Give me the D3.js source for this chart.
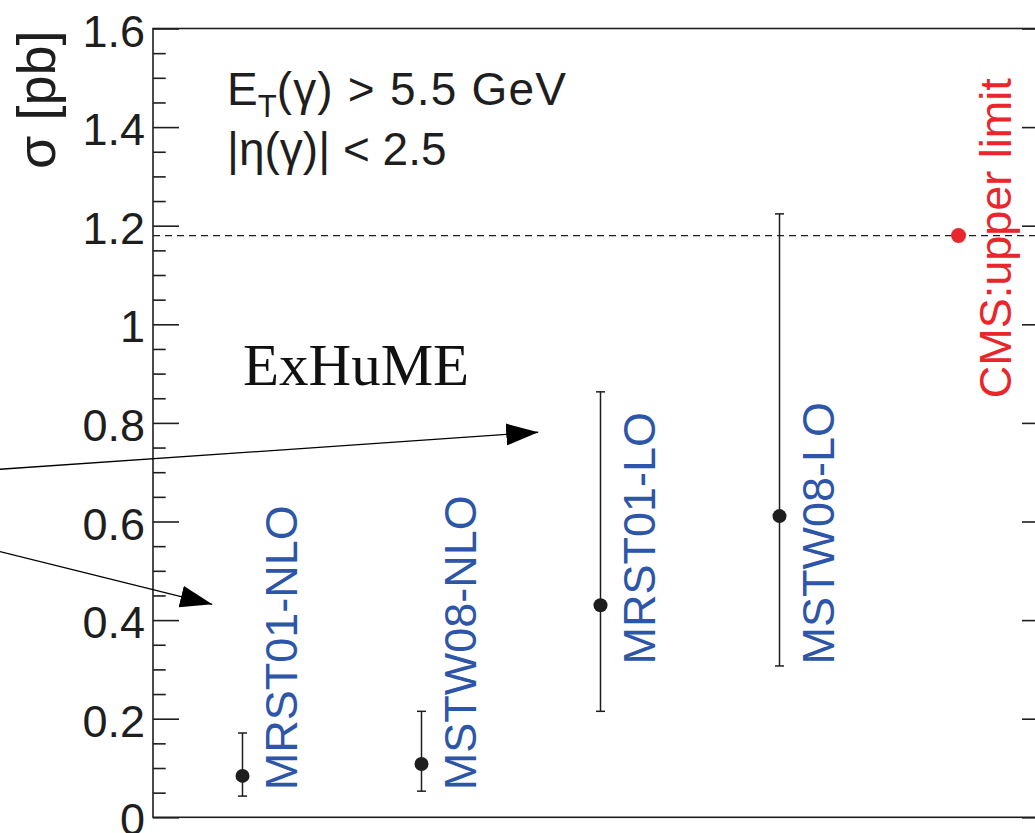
<!DOCTYPE html>
<html>
<head>
<meta charset="utf-8">
<script src="https://cdn.jsdelivr.net/npm/d3@7"></script>
<style>
  html, body { margin: 0; padding: 0; background: #fff; }
  svg { display: block; }
</style>
</head>
<body>
<svg id="chart" width="1035" height="833"></svg>
<script>
// ExHuME predictions for exclusive diphoton production, per PDF set
const pdfSets  = ["MRST01-NLO", "MSTW08-NLO", "MRST01-LO", "MSTW08-LO"];
const sigma    = [0.084, 0.108, 0.430, 0.611];   // central value [pb]
const sigmaHi  = [0.171, 0.215, 0.863, 1.224];   // upper edge of uncertainty
const sigmaLo  = [0.043, 0.053, 0.215, 0.307];   // lower edge of uncertainty

// CMS measured upper limit
const cmsLabel = "CMS:upper limit";
const cmsLimit = 1.18;

// axis ticks
const yMajorTicks  = [0, 0.2, 0.4, 0.6, 0.8, 1.0, 1.2, 1.4, 1.6];
const yTickLabels  = ["0", "0.2", "0.4", "0.6", "0.8", "1", "1.2", "1.4", "1.6"];
const yMinorTicks  = [0.05, 0.1, 0.15, 0.25, 0.3, 0.35, 0.45, 0.5, 0.55, 0.65, 0.7, 0.75,
                      0.85, 0.9, 0.95, 1.05, 1.1, 1.15, 1.25, 1.3, 1.35, 1.45, 1.5, 1.55];

// ---------------------------------------------------------------- layout
const svg = d3.select("#chart");
const sans = "'Liberation Sans', Arial, Helvetica, sans-serif";
const serif = "'Liberation Serif', 'Times New Roman', serif";
const frame = { left: 153, right: 1048, top: 28.5, bottom: 817.3 };

const x = d3.scaleLinear().domain([0.5, 5.5]).range([frame.left, frame.right]);
const y = d3.scaleLinear().domain([0, 1.6]).range([frame.bottom, frame.top]);

const ink = "#1e1e1e";
const blue = "#2d55a8";
const red = "#e8262b";

// where each rotated label starts (in σ units) and its offset from the point
const labelStart = [0.055, 0.055, 0.31, 0.31];
const cmsLabelStart = 0.85;
const labelDx = 54;

// ---------------------------------------------------------------- axes
function styleAxis(g) {
  g.select(".domain").remove();
  g.selectAll(".tick line").attr("stroke", ink).attr("stroke-width", 1.6);
}

const majorSize = 26, minorSize = 12.7;

const leftMajor = d3.axisLeft(y)
  .tickValues(yMajorTicks)
  .tickFormat((d, i) => yTickLabels[i])
  .tickSizeInner(-majorSize).tickSizeOuter(0).tickPadding(8);
const leftMinor = d3.axisLeft(y)
  .tickValues(yMinorTicks).tickFormat("")
  .tickSizeInner(-minorSize).tickSizeOuter(0);
const rightMajor = d3.axisRight(y)
  .tickValues(yMajorTicks).tickFormat("")
  .tickSizeInner(-majorSize).tickSizeOuter(0);
const rightMinor = d3.axisRight(y)
  .tickValues(yMinorTicks).tickFormat("")
  .tickSizeInner(-minorSize).tickSizeOuter(0);

svg.append("g").attr("transform", `translate(${frame.left},0)`).call(leftMajor).call(styleAxis)
  .selectAll(".tick text")
  .attr("fill", ink)
  .style("font-size", "45px")
  .style("font-family", sans)
  .attr("dy", "0.39em");
svg.append("g").attr("transform", `translate(${frame.left},0)`).call(leftMinor).call(styleAxis);
svg.append("g").attr("transform", `translate(${frame.right},0)`).call(rightMajor).call(styleAxis);
svg.append("g").attr("transform", `translate(${frame.right},0)`).call(rightMinor).call(styleAxis);

// frame
svg.append("rect")
  .attr("x", frame.left).attr("y", frame.top)
  .attr("width", frame.right - frame.left).attr("height", frame.bottom - frame.top)
  .attr("fill", "none").attr("stroke", ink).attr("stroke-width", 1.6);

// y-axis title
svg.append("text")
  .attr("transform", `translate(55,${frame.top + 2}) rotate(-90)`)
  .attr("text-anchor", "end")
  .style("font-family", sans)
  .style("font-size", "54px")
  .attr("fill", ink)
  .text("σ [pb]");

// ---------------------------------------------------------------- kinematic cuts
const cuts = svg.append("g").attr("fill", ink)
  .style("font-family", sans).style("font-size", "46px");
const line1 = cuts.append("text").attr("x", 227).attr("y", 105);
line1.append("tspan").text("E");
line1.append("tspan").style("font-size", "31px").attr("dy", 12).text("T");
line1.append("tspan").attr("dy", -12).style("letter-spacing", "1.2px").text("(γ) > 5.5 GeV");
cuts.append("text").attr("x", 227).attr("y", 165).text("|η(γ)| < 2.5");

// ---------------------------------------------------------------- upper limit line
svg.append("line")
  .attr("x1", frame.left).attr("x2", frame.right)
  .attr("y1", y(cmsLimit)).attr("y2", y(cmsLimit))
  .attr("stroke", ink).attr("stroke-width", 1.2)
  .attr("stroke-dasharray", "7,5");

// ---------------------------------------------------------------- predictions
const pts = pdfSets.map((name, i) => ({
  name, i, c: sigma[i], hi: sigmaHi[i], lo: sigmaLo[i], pos: i + 1, start: labelStart[i]
}));

const gPts = svg.append("g");
const capW = 4.5;
const eb = gPts.selectAll("g.err").data(pts).join("g").attr("class", "err")
  .attr("stroke", ink).attr("stroke-width", 1.5);
eb.append("line")
  .attr("x1", d => x(d.pos)).attr("x2", d => x(d.pos))
  .attr("y1", d => y(d.lo)).attr("y2", d => y(d.hi));
eb.append("line")
  .attr("x1", d => x(d.pos) - capW).attr("x2", d => x(d.pos) + capW)
  .attr("y1", d => y(d.hi)).attr("y2", d => y(d.hi));
eb.append("line")
  .attr("x1", d => x(d.pos) - capW).attr("x2", d => x(d.pos) + capW)
  .attr("y1", d => y(d.lo)).attr("y2", d => y(d.lo));

gPts.selectAll("circle").data(pts).join("circle")
  .attr("cx", d => x(d.pos)).attr("cy", d => y(d.c))
  .attr("r", 7).attr("fill", ink);

gPts.selectAll("text").data(pts).join("text")
  .attr("transform", d => `translate(${x(d.pos) + labelDx},${y(d.start)}) rotate(-90)`)
  .style("font-family", sans)
  .style("font-size", "45px")
  .attr("fill", blue)
  .text(d => d.name);

// CMS point
svg.append("circle")
  .attr("cx", x(5)).attr("cy", y(cmsLimit))
  .attr("r", 7.5).attr("fill", red);
svg.append("text")
  .attr("transform", `translate(${x(5) + labelDx - 2},${y(cmsLabelStart)}) rotate(-90)`)
  .style("font-family", sans)
  .style("font-size", "45px")
  .attr("fill", red)
  .text(cmsLabel);

// ---------------------------------------------------------------- ExHuME label with arrows
svg.append("text")
  .attr("x", 243).attr("y", 385)
  .style("font-family", serif)
  .style("font-size", "59px")
  .attr("fill", "#111")
  .text("ExHuME");

svg.append("defs").append("marker")
  .attr("id", "head")
  .attr("viewBox", "0 0 32 22")
  .attr("refX", 32).attr("refY", 11)
  .attr("markerWidth", 32).attr("markerHeight", 22)
  .attr("markerUnits", "userSpaceOnUse")
  .attr("orient", "auto")
  .append("path").attr("d", "M0,0 L32,11 L0,22 Z").attr("fill", "#000");

// arrows point from the annotation off the left edge to the two groups of predictions
const arrows = [
  { from: [-0.355, 0.706], to: [2.652, 0.781] },
  { from: [-0.355, 0.539], to: [0.831, 0.432] }
];
svg.selectAll("line.arrow").data(arrows).join("line").attr("class", "arrow")
  .attr("x1", d => x(d.from[0])).attr("y1", d => y(d.from[1]))
  .attr("x2", d => x(d.to[0])).attr("y2", d => y(d.to[1]))
  .attr("stroke", "#000").attr("stroke-width", 1.3)
  .attr("marker-end", "url(#head)");
</script>
</body>
</html>
